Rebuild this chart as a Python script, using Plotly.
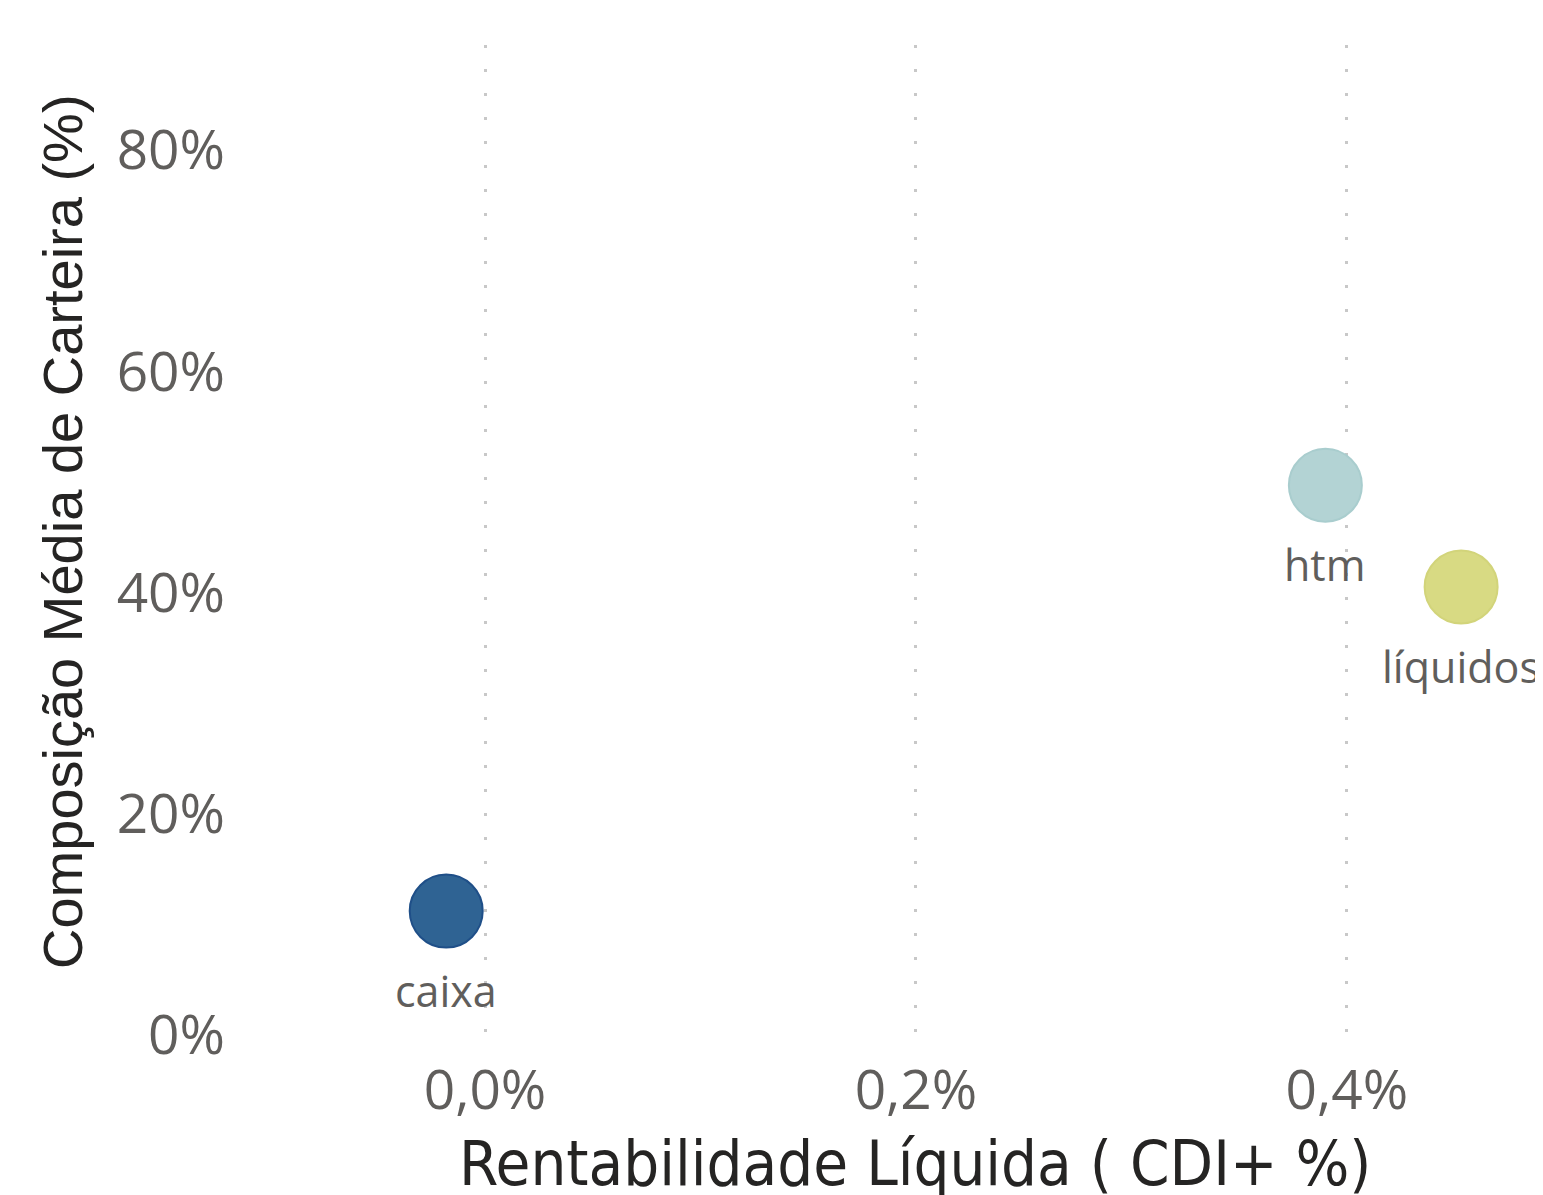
import plotly.graph_objects as go

categorias = ["caixa", "htm", "líquidos"]
rentabilidade = [-0.018, 0.39, 0.453]   # CDI+ %
composicao = [11.2, 49.7, 40.5]         # %
cores = ["#2f6393", "#b3d3d4", "#d8da83"]
bordas = ["#1f4f88", "#a9cdce", "#d2d47a"]

x_ticks = [0.0, 0.2, 0.4]
x_labels = ["0,0%", "0,2%", "0,4%"]
y_ticks = [0, 20, 40, 60, 80]
y_labels = ["0%", "20%", "40%", "60%", "80%"]

# page body has an 8px margin; figure is sized to fit the window
W, H = 1535, 1187
L, T, B = 232, 37, 160
PW, PH = W - L, H - T - B

fig = go.Figure()
fig.add_trace(go.Scatter(
    x=rentabilidade, y=composicao, mode="markers",
    marker=dict(size=73, color=cores, line=dict(color=bordas, width=2)),
    cliponaxis=False, hoverinfo="skip",
))

for cat, xv, yv in zip(categorias, rentabilidade, composicao):
    fig.add_annotation(
        x=xv, y=yv, text=cat, showarrow=False,
        xanchor="center", yanchor="middle", yshift=-79,
        font=dict(family="Open Sans", size=43, color="#605e5c"),
    )

fig.add_annotation(
    xref="paper", yref="paper", x=(907 - L) / PW, y=-(1155 - (T + PH)) / PH,
    text="Rentabilidade Líquida ( CDI+ %)", showarrow=False,
    xanchor="center", yanchor="middle",
    font=dict(family="DejaVu Sans Condensed", size=63, color="#252423"),
)
fig.add_annotation(
    xref="paper", yref="paper", x=(54 - L) / PW, y=(T + PH - 524) / PH,
    text="Composição Média de Carteira (%)", showarrow=False, textangle=-90,
    xanchor="center", yanchor="middle",
    font=dict(family="Liberation Sans", size=56, color="#252423"),
)

fig.update_layout(
    width=W, height=H,
    margin=dict(l=L, r=0, t=T, b=B),
    plot_bgcolor="white", paper_bgcolor="white",
    showlegend=False,
    xaxis=dict(
        range=[-0.1137, 0.491], tickvals=x_ticks, ticktext=x_labels,
        showgrid=True, gridcolor="#c8c8c8", griddash="3px,21px", gridwidth=3,
        zeroline=False, showline=False, ticks="", automargin=False,
        ticklabelstandoff=18,
        tickfont=dict(family="Open Sans", size=55, color="#605e5c"),
    ),
    yaxis=dict(
        range=[0, 89.5], tickvals=y_ticks, ticktext=y_labels,
        showgrid=False, zeroline=False, showline=False, ticks="",
        automargin=False, ticklabelstandoff=14,
        tickfont=dict(family="Open Sans", size=55, color="#605e5c"),
    ),
)

fig.write_html("out.html")
